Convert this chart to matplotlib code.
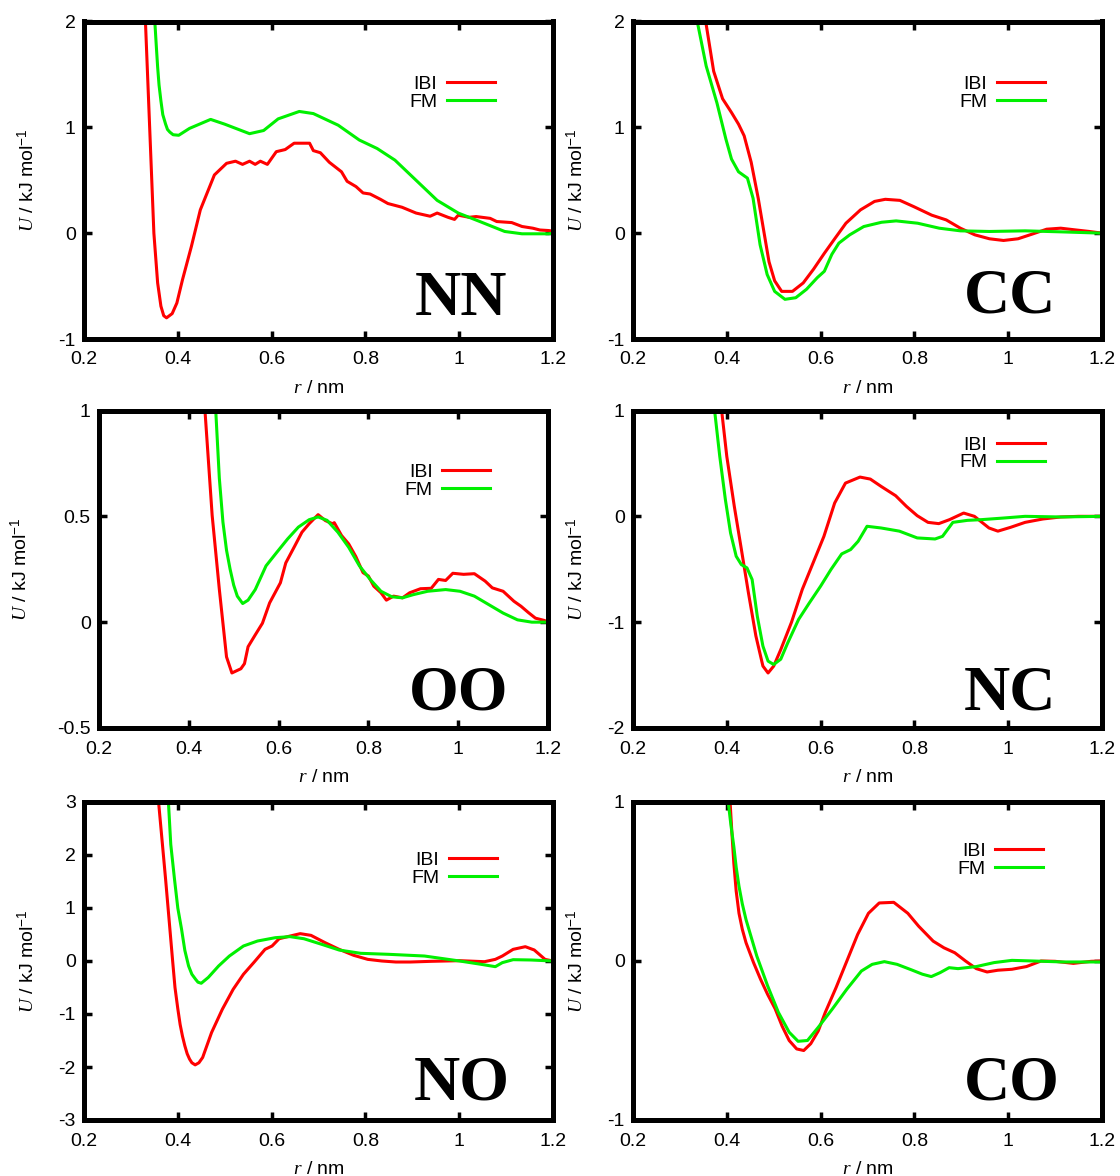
import matplotlib
matplotlib.use('Agg')
import matplotlib.pyplot as plt
from matplotlib.ticker import FuncFormatter

plt.rcParams['font.family'] = 'Liberation Sans'
plt.rcParams['mathtext.fontset'] = 'custom'
plt.rcParams['mathtext.it'] = 'Liberation Serif:italic'
plt.rcParams['mathtext.rm'] = 'Liberation Sans'

# --- data (r in nm, U in kJ/mol) ---
nn_ibi_r = [0.326, 0.331, 0.340, 0.349, 0.357, 0.364, 0.370, 0.376, 0.388, 0.398, 0.41, 0.429, 0.448, 0.478,
            0.504, 0.523, 0.538, 0.553, 0.565, 0.576, 0.591, 0.61, 0.629, 0.648, 0.681, 0.689, 0.704, 0.723,
            0.749, 0.761, 0.78, 0.795, 0.81, 0.832, 0.848, 0.878, 0.908, 0.938, 0.953, 0.976, 0.99, 0.998,
            1.021, 1.036, 1.066, 1.08, 1.112, 1.134, 1.157, 1.172, 1.19, 1.2]
nn_ibi_u = [2.5, 2.0, 1.0, 0.0, -0.47, -0.69, -0.78, -0.80, -0.76, -0.66, -0.44, -0.125, 0.22, 0.55,
            0.66, 0.68, 0.65, 0.68, 0.65, 0.68, 0.65, 0.77, 0.79, 0.85, 0.85, 0.78, 0.76, 0.67,
            0.58, 0.49, 0.44, 0.38, 0.37, 0.32, 0.28, 0.245, 0.19, 0.16, 0.19, 0.15, 0.13, 0.17,
            0.15, 0.157, 0.14, 0.11, 0.10, 0.063, 0.047, 0.03, 0.025, 0.02]
nn_fm_r = [0.348, 0.351, 0.354, 0.357, 0.360, 0.364, 0.368, 0.374, 0.378, 0.383, 0.39, 0.402, 0.425, 0.47,
           0.5, 0.553, 0.583, 0.614, 0.659, 0.689, 0.742, 0.787, 0.825, 0.863, 0.908, 0.953, 0.998, 1.044,
           1.097, 1.134, 1.19, 1.2]
nn_fm_u = [2.5, 2.0, 1.78, 1.57, 1.4, 1.25, 1.12, 1.03, 0.98, 0.955, 0.93, 0.925, 0.99, 1.075,
           1.03, 0.94, 0.97, 1.08, 1.15, 1.13, 1.02, 0.88, 0.80, 0.69, 0.50, 0.31, 0.19, 0.11,
           0.016, -0.006, -0.006, 0.0]

cc_ibi_r = [0.350, 0.355, 0.372, 0.391, 0.41, 0.425, 0.437, 0.452, 0.467, 0.479, 0.49, 0.502, 0.517, 0.54,
            0.563, 0.585, 0.608, 0.631, 0.654, 0.685, 0.715, 0.738, 0.769, 0.799, 0.837, 0.868, 0.898,
            0.929, 0.96, 0.99, 1.021, 1.051, 1.082, 1.112, 1.143, 1.173, 1.2]
cc_ibi_u = [2.3, 2.0, 1.53, 1.27, 1.14, 1.03, 0.92, 0.67, 0.33, 0.016, -0.27, -0.45, -0.55, -0.55,
            -0.47, -0.34, -0.19, -0.047, 0.094, 0.22, 0.30, 0.32, 0.31, 0.25, 0.17, 0.125, 0.047,
            -0.016, -0.053, -0.069, -0.053, -0.009, 0.0375, 0.047, 0.031, 0.016, 0.0]
cc_fm_r = [0.332, 0.337, 0.356, 0.379, 0.398, 0.41, 0.425, 0.444, 0.456, 0.471, 0.486, 0.502, 0.524, 0.547,
           0.57, 0.593, 0.608, 0.624, 0.639, 0.662, 0.692, 0.73, 0.761, 0.807, 0.853, 0.898, 0.96, 1.036,
           1.112, 1.2]
cc_fm_u = [2.3, 2.0, 1.58, 1.23, 0.89, 0.70, 0.58, 0.52, 0.33, -0.11, -0.39, -0.55, -0.625, -0.61,
           -0.53, -0.42, -0.36, -0.20, -0.094, -0.016, 0.0625, 0.103, 0.116, 0.094, 0.047, 0.022, 0.016,
           0.022, 0.0125, 0.0]

oo_ibi_r = [0.432, 0.436, 0.452, 0.468, 0.484, 0.496, 0.516, 0.524, 0.532, 0.548, 0.564, 0.58, 0.604, 0.616,
            0.636, 0.652, 0.668, 0.688, 0.704, 0.72, 0.724, 0.74, 0.756, 0.772, 0.788, 0.8, 0.812, 0.828,
            0.84, 0.856, 0.876, 0.892, 0.916, 0.94, 0.956, 0.972, 0.988, 1.012, 1.036, 1.06, 1.076, 1.1,
            1.124, 1.14, 1.156, 1.172, 1.192, 1.2]
oo_ibi_u = [1.1, 1.0, 0.505, 0.155, -0.164, -0.24, -0.22, -0.196, -0.116, -0.06, -0.005, 0.091, 0.186, 0.28,
            0.36, 0.425, 0.465, 0.508, 0.48, 0.465, 0.47, 0.41, 0.37, 0.31, 0.234, 0.218, 0.17, 0.139,
            0.104, 0.123, 0.115, 0.139, 0.158, 0.16, 0.202, 0.197, 0.231, 0.226, 0.229, 0.194, 0.162, 0.146,
            0.099, 0.075, 0.046, 0.019, 0.008, 0.0]
oo_fm_r = [0.457, 0.46, 0.468, 0.476, 0.484, 0.492, 0.5, 0.508, 0.52, 0.532, 0.548, 0.572, 0.596, 0.62,
           0.644, 0.668, 0.688, 0.708, 0.732, 0.756, 0.78, 0.804, 0.828, 0.852, 0.876, 0.9, 0.932, 0.972,
           1.004, 1.036, 1.068, 1.1, 1.132, 1.164, 1.2]
oo_fm_u = [1.1, 1.0, 0.68, 0.473, 0.34, 0.25, 0.175, 0.123, 0.088, 0.104, 0.154, 0.266, 0.33, 0.393,
           0.449, 0.484, 0.497, 0.481, 0.425, 0.354, 0.266, 0.202, 0.146, 0.12, 0.115, 0.13, 0.146, 0.154,
           0.146, 0.123, 0.083, 0.043, 0.011, 0.0, 0.0]

nc_ibi_r = [0.386, 0.389, 0.4, 0.416, 0.431, 0.446, 0.462, 0.477, 0.488, 0.5, 0.515, 0.538, 0.561, 0.584,
            0.607, 0.63, 0.653, 0.684, 0.706, 0.729, 0.76, 0.783, 0.806, 0.829, 0.852, 0.875, 0.905, 0.928,
            0.959, 0.978, 1.005, 1.036, 1.074, 1.112, 1.15, 1.2]
nc_ibi_u = [1.1, 1.0, 0.566, 0.094, -0.31, -0.72, -1.13, -1.415, -1.48, -1.415, -1.26, -1.0, -0.69, -0.44,
            -0.19, 0.126, 0.314, 0.371, 0.352, 0.283, 0.195, 0.094, 0.006, -0.057, -0.069, -0.031, 0.031, 0.0,
            -0.11, -0.14, -0.104, -0.057, -0.025, -0.006, 0.0, 0.0]
nc_fm_r = [0.371, 0.374, 0.385, 0.397, 0.408, 0.42, 0.431, 0.443, 0.454, 0.465, 0.477, 0.488, 0.5, 0.515,
           0.53, 0.553, 0.576, 0.6, 0.622, 0.645, 0.664, 0.68, 0.699, 0.729, 0.768, 0.806, 0.844, 0.86,
           0.882, 0.913, 0.944, 0.99, 1.036, 1.112, 1.2]
nc_fm_u = [1.1, 1.0, 0.566, 0.157, -0.157, -0.377, -0.456, -0.487, -0.597, -0.943, -1.226, -1.368, -1.40, -1.35,
           -1.195, -0.975, -0.818, -0.66, -0.503, -0.355, -0.314, -0.236, -0.094, -0.11, -0.14, -0.204, -0.214,
           -0.189, -0.057, -0.038, -0.031, -0.016, 0.0, -0.006, 0.0]

no_ibi_r = [0.356, 0.359, 0.374, 0.389, 0.394, 0.4, 0.405, 0.41, 0.415, 0.42, 0.425, 0.43, 0.437, 0.445,
            0.453, 0.472, 0.495, 0.518, 0.54, 0.563, 0.586, 0.601, 0.616, 0.639, 0.661, 0.684, 0.714, 0.744,
            0.775, 0.805, 0.835, 0.865, 0.896, 0.941, 1.001, 1.054, 1.077, 1.092, 1.115, 1.141, 1.16, 1.183,
            1.2]
no_ibi_u = [3.3, 3.0, 1.54, 0.0, -0.5, -0.9, -1.2, -1.42, -1.6, -1.75, -1.85, -1.92, -1.96, -1.92,
            -1.82, -1.35, -0.91, -0.535, -0.25, -0.019, 0.22, 0.283, 0.42, 0.47, 0.516, 0.484, 0.346, 0.22,
            0.107, 0.031, 0.0, -0.019, -0.019, -0.006, 0.006, -0.013, 0.031, 0.094, 0.22, 0.27, 0.208, 0.031,
            0.0]
no_fm_r = [0.377, 0.38, 0.385, 0.393, 0.4, 0.408, 0.415, 0.423, 0.43, 0.438, 0.443, 0.45, 0.465, 0.487,
           0.51, 0.54, 0.57, 0.608, 0.639, 0.669, 0.707, 0.744, 0.79, 0.85, 0.926, 1.001, 1.047, 1.077,
           1.092, 1.115, 1.153, 1.2]
no_fm_u = [3.3, 3.0, 2.2, 1.54, 1.0, 0.6, 0.2, -0.094, -0.25, -0.346, -0.40, -0.42, -0.31, -0.094,
           0.094, 0.283, 0.377, 0.44, 0.46, 0.42, 0.314, 0.207, 0.145, 0.126, 0.094, 0.0, -0.063, -0.107,
           -0.031, 0.025, 0.019, 0.0]

co_ibi_r = [0.405, 0.407, 0.411, 0.415, 0.42, 0.426, 0.433, 0.441, 0.457, 0.472, 0.487, 0.503, 0.518, 0.533,
            0.549, 0.564, 0.579, 0.595, 0.61, 0.633, 0.656, 0.679, 0.702, 0.725, 0.756, 0.786, 0.809, 0.84,
            0.863, 0.886, 0.909, 0.932, 0.955, 0.978, 1.008, 1.039, 1.07, 1.1, 1.139, 1.177, 1.2]
co_ibi_u = [1.1, 1.0, 0.8, 0.615, 0.44, 0.30, 0.2, 0.115, -0.01, -0.115, -0.21, -0.30, -0.41, -0.50,
            -0.553, -0.563, -0.52, -0.44, -0.323, -0.167, 0.0, 0.167, 0.30, 0.365, 0.369, 0.30, 0.219, 0.125,
            0.083, 0.052, 0.0, -0.048, -0.069, -0.058, -0.052, -0.035, 0.0, -0.002, -0.015, -0.002, 0.0]
co_fm_r = [0.401, 0.403, 0.409, 0.415, 0.42, 0.426, 0.433, 0.441, 0.464, 0.487, 0.51, 0.533, 0.552, 0.572,
           0.595, 0.625, 0.656, 0.687, 0.71, 0.736, 0.763, 0.794, 0.817, 0.836, 0.855, 0.874, 0.893, 0.932,
           0.97, 1.008, 1.054, 1.116, 1.2]
co_fm_u = [1.1, 1.0, 0.85, 0.72, 0.59, 0.47, 0.36, 0.26, 0.031, -0.156, -0.323, -0.448, -0.505, -0.50,
           -0.417, -0.302, -0.177, -0.063, -0.021, -0.004, -0.021, -0.056, -0.083, -0.098, -0.073, -0.042,
           -0.048, -0.035, -0.01, 0.004, 0.0, -0.006, -0.006]

x_ticks = [0.2, 0.4, 0.6, 0.8, 1.0, 1.2]

# name, ibi, fm, ylim, yticks, frame box in pixels, ylabel x (axes), legend anchor, label pos
panels = [
    ('NN', (nn_ibi_r, nn_ibi_u), (nn_fm_r, nn_fm_u), (-1, 2), [-1, 0, 1, 2],
     (84, 21.5, 553, 339), -0.097, (0.876, 0.830), (0.804, 0.075)),
    ('CC', (cc_ibi_r, cc_ibi_u), (cc_fm_r, cc_fm_u), (-1, 2), [-1, 0, 1, 2],
     (633, 21.5, 1102, 339), -0.098, (0.878, 0.830), (0.803, 0.085)),
    ('OO', (oo_ibi_r, oo_ibi_u), (oo_fm_r, oo_fm_u), (-0.5, 1), [-0.5, 0, 0.5, 1],
     (99, 410.5, 548, 728), -0.151, (0.871, 0.833), (0.80, 0.057)),
    ('NC', (nc_ibi_r, nc_ibi_u), (nc_fm_r, nc_fm_u), (-2, 1), [-2, -1, 0, 1],
     (633, 410.5, 1102, 728), -0.098, (0.878, 0.919), (0.803, 0.057)),
    ('NO', (no_ibi_r, no_ibi_u), (no_fm_r, no_fm_u), (-3, 3), [-3, -2, -1, 0, 1, 2, 3],
     (84, 802, 553, 1120), -0.097, (0.880, 0.845), (0.806, 0.063)),
    ('CO', (co_ibi_r, co_ibi_u), (co_fm_r, co_fm_u), (-1, 1), [-1, 0, 1],
     (633, 802, 1102, 1120), -0.098, (0.874, 0.873), (0.807, 0.063)),
]

W, H = 1120, 1176
fig = plt.figure(figsize=(W / 100, H / 100), dpi=100)
fmt = FuncFormatter(lambda v, p: '%g' % round(v, 6))

for name, ibi, fm, ylim, yticks, box, ylab_x, leg_xy, lab_xy in panels:
    x0, y0, x1, y1 = box
    ax = fig.add_axes([x0 / W, 1 - y1 / H, (x1 - x0) / W, (y1 - y0) / H])
    ax.plot(ibi[0], ibi[1], color='#ff0000', lw=2.2, label='IBI')
    ax.plot(fm[0], fm[1], color='#00f000', lw=2.2, label='FM')
    ax.set_xlim(0.2, 1.2)
    ax.set_ylim(*ylim)
    ax.set_xticks(x_ticks)
    ax.set_yticks(yticks)
    ax.xaxis.set_major_formatter(fmt)
    ax.yaxis.set_major_formatter(fmt)
    for s in ax.spines.values():
        s.set_linewidth(3.6)
    ax.tick_params(direction='in', top=True, right=True, length=6, width=2.5, labelsize=14)
    ax.tick_params(axis='x', pad=9)
    ax.tick_params(axis='y', pad=6)
    ax.set_xlabel(r'$r$ / nm', fontsize=14)
    ax.set_ylabel(r'$U$ / kJ mol$^{-1}$', fontsize=14)
    ax.xaxis.set_label_coords(0.5, -0.13)
    ax.yaxis.set_label_coords(ylab_x, 0.5)
    ax.legend(loc='upper right', bbox_to_anchor=leg_xy, frameon=False, markerfirst=False,
              handlelength=2.45, handletextpad=0.5, labelspacing=0.0, borderaxespad=0,
              borderpad=0, fontsize=14)
    ax.text(lab_xy[0], lab_xy[1], name, transform=ax.transAxes, ha='center', va='baseline',
            fontsize=46, fontweight='bold', family='Liberation Serif')

fig.savefig('out.png', dpi=100)
